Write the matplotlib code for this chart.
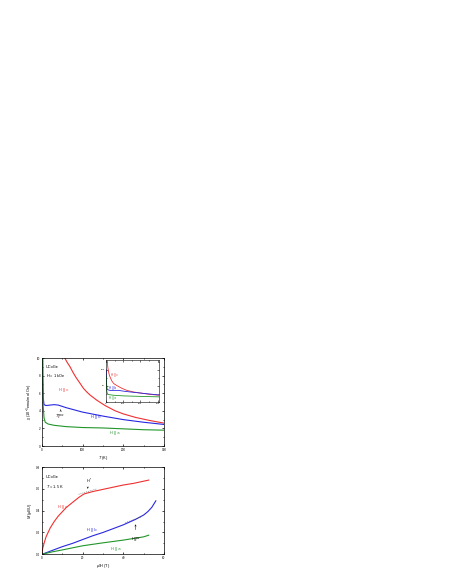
import numpy as np
import matplotlib
matplotlib.use('Agg')
import matplotlib.pyplot as plt
from matplotlib.ticker import AutoMinorLocator

plt.rcParams['font.family'] = ['Liberation Sans', 'DejaVu Sans']
plt.rcParams['mathtext.fontset'] = 'custom'
plt.rcParams['mathtext.rm'] = 'Liberation Sans'
plt.rcParams['mathtext.it'] = 'Liberation Sans:italic'

# susceptibility vs temperature (main panel), 10^-3 emu/mol Oe
T_c = [50, 56, 62, 69, 77, 85, 94, 102, 110, 118, 135, 155, 180, 200, 230, 265, 300]
chi_c = [11.5, 10.0, 9.5, 9.0, 8.3, 7.7, 7.1, 6.55, 6.15, 5.8, 5.2, 4.6, 4.0, 3.65, 3.25, 2.9, 2.6]
T_b = [1.5, 2, 3, 5, 10, 20, 30, 40, 50, 60, 80, 100, 150, 200, 250, 300]
chi_b = [11, 8.0, 5.5, 4.7, 4.6, 4.65, 4.7, 4.65, 4.5, 4.35, 4.1, 3.85, 3.4, 3.0, 2.7, 2.45]
T_a = [1.5, 2, 3, 5, 8, 15, 30, 60, 100, 150, 200, 250, 300]
chi_a = [11, 7.0, 4.5, 3.2, 2.7, 2.5, 2.35, 2.2, 2.1, 2.05, 1.95, 1.85, 1.8]

# inset curves
Ti_c = [7.6, 10, 13.5, 20, 33, 45, 63, 90, 121, 160, 199, 250, 306]
vi_c = [127, 110, 97, 82, 66, 57, 51, 43, 36, 31, 28, 24, 21]
Ti_b = [1.5, 2, 4, 6, 10, 23, 50, 72, 110, 160, 230, 306]
vi_b = [100, 76, 52, 41, 38, 36, 36, 36, 33, 30, 26, 22]
Ti_a = [1.5, 2, 4, 7.6, 15, 43, 100, 160, 230, 306]
vi_a = [80, 56, 36, 26, 23, 21, 19, 18, 17, 16]

# magnetization vs field, muB/U
H_c = [0, 0.3, 1, 2, 4, 6, 8, 10, 12, 14, 16, 18, 20, 21, 22, 25, 30, 35, 40, 45, 50, 52.5]
M_c = [0.0, 0.05, 0.10, 0.16, 0.24, 0.30, 0.35, 0.39, 0.43, 0.46, 0.49, 0.52, 0.545, 0.555,
       0.56, 0.575, 0.595, 0.615, 0.635, 0.65, 0.67, 0.68]
H_b = [0, 5, 10, 15, 20, 25, 30, 35, 40, 43, 46, 48, 50, 52, 54, 56]
M_b = [0, 0.035, 0.07, 0.10, 0.135, 0.17, 0.2, 0.235, 0.27, 0.295, 0.32, 0.34, 0.36, 0.39, 0.43, 0.49]
H_a = [0, 5, 10, 20, 30, 40, 50, 52.5]
M_a = [0, 0.022, 0.04, 0.078, 0.105, 0.13, 0.16, 0.175]

red = '#f03030'
blue = '#2828e0'
green = '#22962a'
fs = 2.8
tfs = 2.2
lw_data = 0.8


def style(ax, lw=0.5):
    for s in ax.spines.values():
        s.set_linewidth(lw)
    ax.tick_params(which='both', direction='in', top=True, right=True, width=lw,
                   labelsize=tfs, pad=1.2)
    ax.tick_params(which='major', length=1.5)
    ax.tick_params(which='minor', length=0.8)
    ax.xaxis.set_minor_locator(AutoMinorLocator(2))
    ax.yaxis.set_minor_locator(AutoMinorLocator(2))


fig = plt.figure(figsize=(4.52, 5.85), dpi=100)

# top panel
ax1 = fig.add_axes([0.0929, 0.2376, 0.2699, 0.1504])
ax1.plot(T_c, chi_c, color=red, lw=lw_data)
ax1.plot(T_b, chi_b, color=blue, lw=lw_data)
ax1.plot(T_a, chi_a, color=green, lw=lw_data)
ax1.set_xlim(0, 300)
ax1.set_ylim(0, 10)
ax1.set_xticks([0, 100, 200, 300])
ax1.set_yticks([0, 2, 4, 6, 8, 10])
style(ax1)
ax1.set_xlabel('$T$ (K)', fontsize=fs, labelpad=1.5)
ax1.set_ylabel('$\\chi$ (10$^{-3}$emu/mol Oe)', fontsize=fs, labelpad=1.5)
ax1.text(10, 8.9, 'UCoGe', fontsize=fs)
ax1.text(10, 7.8, '$H$ = 1 kOe', fontsize=fs)
ax1.text(43, 6.2, 'H || c', color=red, fontsize=fs)
ax1.text(120, 3.2, 'H || b', color=blue, fontsize=fs)
ax1.text(168, 1.4, 'H || a', color=green, fontsize=fs)
ax1.text(33, 3.2, '$T_c^{max}$', fontsize=fs)
ax1.annotate('', xy=(46, 4.45), xytext=(46, 3.8),
             arrowprops=dict(arrowstyle='->', lw=0.35, mutation_scale=2.5))

# inset
ax3 = fig.add_axes([0.2345, 0.3128, 0.118, 0.0718])
ax3.plot(Ti_c, vi_c, color=red, lw=0.6)
ax3.plot(Ti_b, vi_b, color=blue, lw=0.6)
ax3.plot(Ti_a, vi_a, color=green, lw=0.6)
ax3.set_xlim(0, 310)
ax3.set_ylim(0, 130)
ax3.set_xticks([0, 100, 200, 300])
ax3.set_yticks([50, 100])
style(ax3, lw=0.4)
ax3.tick_params(labelsize=1.7, pad=0.8)
ax3.text(28, 80, 'H || c', color=red, fontsize=2.2)
ax3.text(20, 40, 'H || b', color=blue, fontsize=2.2)
ax3.text(18, 8, 'H || a', color=green, fontsize=2.2)

# bottom panel
ax2 = fig.add_axes([0.0929, 0.0525, 0.2699, 0.1492])
ax2.plot(H_c, M_c, color=red, lw=lw_data)
ax2.plot(H_b, M_b, color=blue, lw=lw_data)
ax2.plot(H_a, M_a, color=green, lw=lw_data)
ax2.set_xlim(0, 60)
ax2.set_ylim(0, 0.8)
ax2.set_xticks([0, 20, 40, 60])
ax2.set_yticks([0.0, 0.2, 0.4, 0.6, 0.8])
ax2.set_yticklabels(['0.0', '0.2', '0.4', '0.6', '0.8'])
style(ax2)
ax2.set_xlabel('$\\mu_0H$ (T)', fontsize=fs, labelpad=1.5)
ax2.set_ylabel('$M$ ($\\mu_B$/U)', fontsize=fs, labelpad=1.5)
ax2.text(2, 0.7, 'UCoGe', fontsize=fs)
ax2.text(2, 0.61, '$T$ = 1.5 K', fontsize=fs)
ax2.text(8, 0.42, 'H || c', color=red, fontsize=fs)
ax2.text(22, 0.215, 'H || b', color=blue, fontsize=fs)
ax2.text(34, 0.035, 'H || a', color=green, fontsize=fs)
ax2.text(21.5, 0.655, '$H^*$', fontsize=fs)
ax2.annotate('', xy=(22.5, 0.575), xytext=(22.5, 0.64),
             arrowprops=dict(arrowstyle='->', lw=0.35, mutation_scale=2.5))
ax2.plot([18, 27], [0.55, 0.6], color='0.3', lw=0.35, ls=(0, (2, 2)))
ax2.text(44, 0.13, '$H_m^{max}$', fontsize=fs)
ax2.annotate('', xy=(46, 0.3), xytext=(46, 0.2),
             arrowprops=dict(arrowstyle='->', lw=0.35, mutation_scale=2.5))
ax2.plot([41, 49], [0.29, 0.345], color='0.3', lw=0.35, ls=(0, (2, 2)))

fig.savefig('out.png', dpi=100)
